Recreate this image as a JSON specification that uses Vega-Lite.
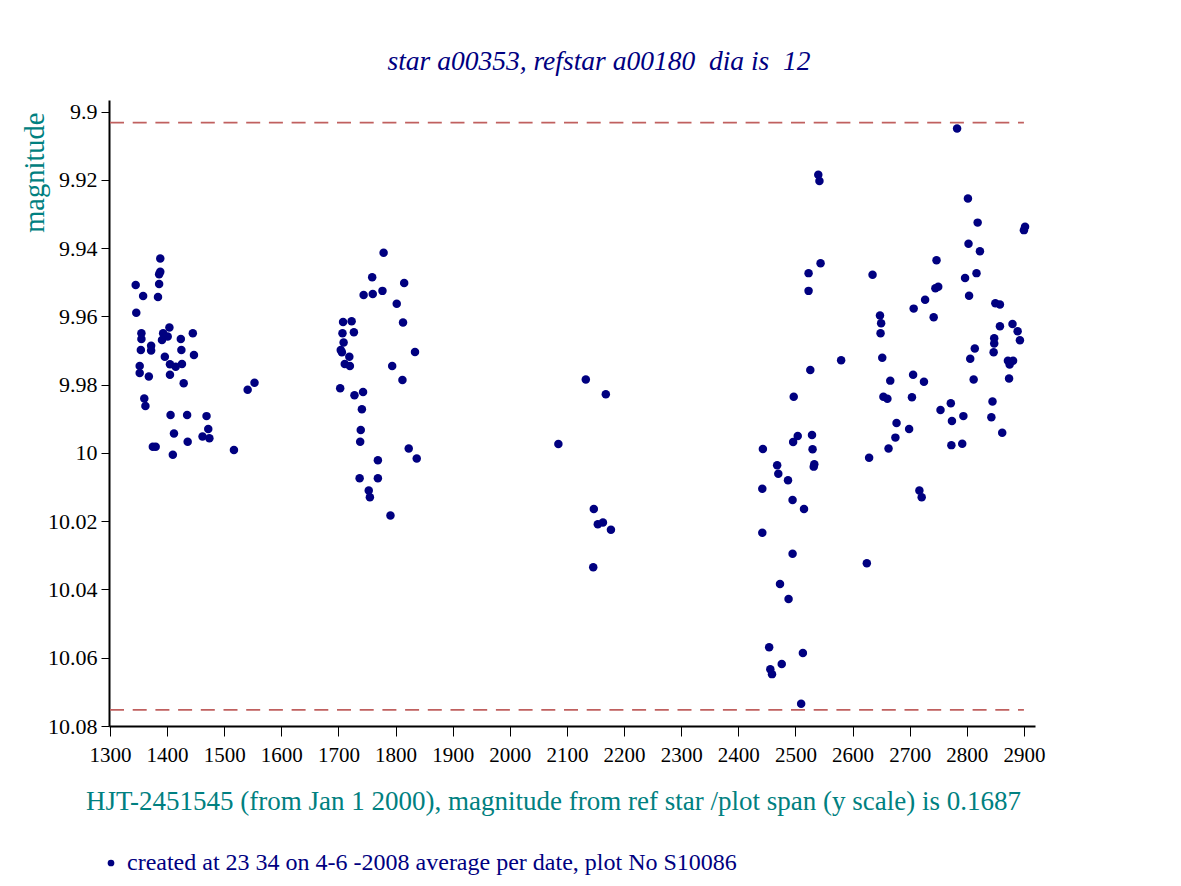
{
  "$schema": "https://vega.github.io/schema/vega-lite/v6.json",
  "width": 926,
  "height": 626,
  "autosize": "none",
  "padding": {"left": 109, "top": 100, "right": 146, "bottom": 160},
  "background": "white",
  "title": {
    "text": "star a00353, refstar a00180 \u00a0dia is \u00a012",
    "font": "Liberation Serif",
    "fontSize": 27.5,
    "fontStyle": "italic",
    "fontWeight": "normal",
    "color": "#000080",
    "anchor": "middle",
    "frame": "group",
    "dx": 27,
    "offset": 3,
    "baseline": "alphabetic"
  },
  "config": {
    "view": {"stroke": null},
    "axis": {
      "grid": false,
      "domainColor": "black",
      "domainWidth": 2,
      "tickColor": "black",
      "tickWidth": 1,
      "labelColor": "black",
      "labelFont": "Liberation Serif",
      "labelFontSize": 21,
      "labelFlush": false,
      "labelOverlap": false,
      "titleFont": "Liberation Serif",
      "titleFontWeight": "normal",
      "titleColor": "#008080"
    }
  },
  "datasets": {
    "points": [
      {"hjt": 1388, "mag": 9.9430, "series": "created at 23 34 on 4-6 -2008 average per date, plot No S10086"},
      {"hjt": 1388, "mag": 9.9469, "series": "created at 23 34 on 4-6 -2008 average per date, plot No S10086"},
      {"hjt": 1386, "mag": 9.9476, "series": "created at 23 34 on 4-6 -2008 average per date, plot No S10086"},
      {"hjt": 1345, "mag": 9.9508, "series": "created at 23 34 on 4-6 -2008 average per date, plot No S10086"},
      {"hjt": 1386, "mag": 9.9505, "series": "created at 23 34 on 4-6 -2008 average per date, plot No S10086"},
      {"hjt": 1358, "mag": 9.9540, "series": "created at 23 34 on 4-6 -2008 average per date, plot No S10086"},
      {"hjt": 1384, "mag": 9.9543, "series": "created at 23 34 on 4-6 -2008 average per date, plot No S10086"},
      {"hjt": 1346, "mag": 9.9589, "series": "created at 23 34 on 4-6 -2008 average per date, plot No S10086"},
      {"hjt": 1355, "mag": 9.9649, "series": "created at 23 34 on 4-6 -2008 average per date, plot No S10086"},
      {"hjt": 1355, "mag": 9.9666, "series": "created at 23 34 on 4-6 -2008 average per date, plot No S10086"},
      {"hjt": 1404, "mag": 9.9632, "series": "created at 23 34 on 4-6 -2008 average per date, plot No S10086"},
      {"hjt": 1393, "mag": 9.9649, "series": "created at 23 34 on 4-6 -2008 average per date, plot No S10086"},
      {"hjt": 1401, "mag": 9.9659, "series": "created at 23 34 on 4-6 -2008 average per date, plot No S10086"},
      {"hjt": 1391, "mag": 9.9669, "series": "created at 23 34 on 4-6 -2008 average per date, plot No S10086"},
      {"hjt": 1424, "mag": 9.9666, "series": "created at 23 34 on 4-6 -2008 average per date, plot No S10086"},
      {"hjt": 1445, "mag": 9.9649, "series": "created at 23 34 on 4-6 -2008 average per date, plot No S10086"},
      {"hjt": 1354, "mag": 9.9698, "series": "created at 23 34 on 4-6 -2008 average per date, plot No S10086"},
      {"hjt": 1372, "mag": 9.9686, "series": "created at 23 34 on 4-6 -2008 average per date, plot No S10086"},
      {"hjt": 1372, "mag": 9.9700, "series": "created at 23 34 on 4-6 -2008 average per date, plot No S10086"},
      {"hjt": 1425, "mag": 9.9698, "series": "created at 23 34 on 4-6 -2008 average per date, plot No S10086"},
      {"hjt": 1396, "mag": 9.9718, "series": "created at 23 34 on 4-6 -2008 average per date, plot No S10086"},
      {"hjt": 1447, "mag": 9.9713, "series": "created at 23 34 on 4-6 -2008 average per date, plot No S10086"},
      {"hjt": 1405, "mag": 9.9740, "series": "created at 23 34 on 4-6 -2008 average per date, plot No S10086"},
      {"hjt": 1415, "mag": 9.9747, "series": "created at 23 34 on 4-6 -2008 average per date, plot No S10086"},
      {"hjt": 1426, "mag": 9.9739, "series": "created at 23 34 on 4-6 -2008 average per date, plot No S10086"},
      {"hjt": 1352, "mag": 9.9745, "series": "created at 23 34 on 4-6 -2008 average per date, plot No S10086"},
      {"hjt": 1352, "mag": 9.9766, "series": "created at 23 34 on 4-6 -2008 average per date, plot No S10086"},
      {"hjt": 1368, "mag": 9.9776, "series": "created at 23 34 on 4-6 -2008 average per date, plot No S10086"},
      {"hjt": 1405, "mag": 9.9771, "series": "created at 23 34 on 4-6 -2008 average per date, plot No S10086"},
      {"hjt": 1429, "mag": 9.9796, "series": "created at 23 34 on 4-6 -2008 average per date, plot No S10086"},
      {"hjt": 1553, "mag": 9.9794, "series": "created at 23 34 on 4-6 -2008 average per date, plot No S10086"},
      {"hjt": 1541, "mag": 9.9815, "series": "created at 23 34 on 4-6 -2008 average per date, plot No S10086"},
      {"hjt": 1360, "mag": 9.9840, "series": "created at 23 34 on 4-6 -2008 average per date, plot No S10086"},
      {"hjt": 1362, "mag": 9.9862, "series": "created at 23 34 on 4-6 -2008 average per date, plot No S10086"},
      {"hjt": 1406, "mag": 9.9889, "series": "created at 23 34 on 4-6 -2008 average per date, plot No S10086"},
      {"hjt": 1435, "mag": 9.9889, "series": "created at 23 34 on 4-6 -2008 average per date, plot No S10086"},
      {"hjt": 1469, "mag": 9.9892, "series": "created at 23 34 on 4-6 -2008 average per date, plot No S10086"},
      {"hjt": 1472, "mag": 9.9930, "series": "created at 23 34 on 4-6 -2008 average per date, plot No S10086"},
      {"hjt": 1462, "mag": 9.9952, "series": "created at 23 34 on 4-6 -2008 average per date, plot No S10086"},
      {"hjt": 1474, "mag": 9.9957, "series": "created at 23 34 on 4-6 -2008 average per date, plot No S10086"},
      {"hjt": 1412, "mag": 9.9943, "series": "created at 23 34 on 4-6 -2008 average per date, plot No S10086"},
      {"hjt": 1436, "mag": 9.9967, "series": "created at 23 34 on 4-6 -2008 average per date, plot No S10086"},
      {"hjt": 1375, "mag": 9.9982, "series": "created at 23 34 on 4-6 -2008 average per date, plot No S10086"},
      {"hjt": 1380, "mag": 9.9982, "series": "created at 23 34 on 4-6 -2008 average per date, plot No S10086"},
      {"hjt": 1410, "mag": 10.0005, "series": "created at 23 34 on 4-6 -2008 average per date, plot No S10086"},
      {"hjt": 1517, "mag": 9.9991, "series": "created at 23 34 on 4-6 -2008 average per date, plot No S10086"},
      {"hjt": 1779, "mag": 9.9413, "series": "created at 23 34 on 4-6 -2008 average per date, plot No S10086"},
      {"hjt": 1759, "mag": 9.9485, "series": "created at 23 34 on 4-6 -2008 average per date, plot No S10086"},
      {"hjt": 1815, "mag": 9.9502, "series": "created at 23 34 on 4-6 -2008 average per date, plot No S10086"},
      {"hjt": 1744, "mag": 9.9537, "series": "created at 23 34 on 4-6 -2008 average per date, plot No S10086"},
      {"hjt": 1760, "mag": 9.9534, "series": "created at 23 34 on 4-6 -2008 average per date, plot No S10086"},
      {"hjt": 1777, "mag": 9.9525, "series": "created at 23 34 on 4-6 -2008 average per date, plot No S10086"},
      {"hjt": 1802, "mag": 9.9563, "series": "created at 23 34 on 4-6 -2008 average per date, plot No S10086"},
      {"hjt": 1708, "mag": 9.9616, "series": "created at 23 34 on 4-6 -2008 average per date, plot No S10086"},
      {"hjt": 1723, "mag": 9.9614, "series": "created at 23 34 on 4-6 -2008 average per date, plot No S10086"},
      {"hjt": 1707, "mag": 9.9649, "series": "created at 23 34 on 4-6 -2008 average per date, plot No S10086"},
      {"hjt": 1727, "mag": 9.9646, "series": "created at 23 34 on 4-6 -2008 average per date, plot No S10086"},
      {"hjt": 1709, "mag": 9.9676, "series": "created at 23 34 on 4-6 -2008 average per date, plot No S10086"},
      {"hjt": 1704, "mag": 9.9698, "series": "created at 23 34 on 4-6 -2008 average per date, plot No S10086"},
      {"hjt": 1706, "mag": 9.9705, "series": "created at 23 34 on 4-6 -2008 average per date, plot No S10086"},
      {"hjt": 1813, "mag": 9.9618, "series": "created at 23 34 on 4-6 -2008 average per date, plot No S10086"},
      {"hjt": 1719, "mag": 9.9718, "series": "created at 23 34 on 4-6 -2008 average per date, plot No S10086"},
      {"hjt": 1711, "mag": 9.9739, "series": "created at 23 34 on 4-6 -2008 average per date, plot No S10086"},
      {"hjt": 1720, "mag": 9.9745, "series": "created at 23 34 on 4-6 -2008 average per date, plot No S10086"},
      {"hjt": 1834, "mag": 9.9704, "series": "created at 23 34 on 4-6 -2008 average per date, plot No S10086"},
      {"hjt": 1794, "mag": 9.9745, "series": "created at 23 34 on 4-6 -2008 average per date, plot No S10086"},
      {"hjt": 1812, "mag": 9.9786, "series": "created at 23 34 on 4-6 -2008 average per date, plot No S10086"},
      {"hjt": 1703, "mag": 9.9810, "series": "created at 23 34 on 4-6 -2008 average per date, plot No S10086"},
      {"hjt": 1728, "mag": 9.9831, "series": "created at 23 34 on 4-6 -2008 average per date, plot No S10086"},
      {"hjt": 1743, "mag": 9.9821, "series": "created at 23 34 on 4-6 -2008 average per date, plot No S10086"},
      {"hjt": 1741, "mag": 9.9872, "series": "created at 23 34 on 4-6 -2008 average per date, plot No S10086"},
      {"hjt": 1739, "mag": 9.9933, "series": "created at 23 34 on 4-6 -2008 average per date, plot No S10086"},
      {"hjt": 1738, "mag": 9.9967, "series": "created at 23 34 on 4-6 -2008 average per date, plot No S10086"},
      {"hjt": 1823, "mag": 9.9987, "series": "created at 23 34 on 4-6 -2008 average per date, plot No S10086"},
      {"hjt": 1837, "mag": 10.0016, "series": "created at 23 34 on 4-6 -2008 average per date, plot No S10086"},
      {"hjt": 1769, "mag": 10.0021, "series": "created at 23 34 on 4-6 -2008 average per date, plot No S10086"},
      {"hjt": 1737, "mag": 10.0074, "series": "created at 23 34 on 4-6 -2008 average per date, plot No S10086"},
      {"hjt": 1769, "mag": 10.0074, "series": "created at 23 34 on 4-6 -2008 average per date, plot No S10086"},
      {"hjt": 1753, "mag": 10.0110, "series": "created at 23 34 on 4-6 -2008 average per date, plot No S10086"},
      {"hjt": 1755, "mag": 10.0130, "series": "created at 23 34 on 4-6 -2008 average per date, plot No S10086"},
      {"hjt": 1791, "mag": 10.0183, "series": "created at 23 34 on 4-6 -2008 average per date, plot No S10086"},
      {"hjt": 2133, "mag": 9.9785, "series": "created at 23 34 on 4-6 -2008 average per date, plot No S10086"},
      {"hjt": 2168, "mag": 9.9828, "series": "created at 23 34 on 4-6 -2008 average per date, plot No S10086"},
      {"hjt": 2085, "mag": 9.9974, "series": "created at 23 34 on 4-6 -2008 average per date, plot No S10086"},
      {"hjt": 2147, "mag": 10.0164, "series": "created at 23 34 on 4-6 -2008 average per date, plot No S10086"},
      {"hjt": 2154, "mag": 10.0209, "series": "created at 23 34 on 4-6 -2008 average per date, plot No S10086"},
      {"hjt": 2163, "mag": 10.0204, "series": "created at 23 34 on 4-6 -2008 average per date, plot No S10086"},
      {"hjt": 2177, "mag": 10.0225, "series": "created at 23 34 on 4-6 -2008 average per date, plot No S10086"},
      {"hjt": 2146, "mag": 10.0335, "series": "created at 23 34 on 4-6 -2008 average per date, plot No S10086"},
      {"hjt": 2540, "mag": 9.9185, "series": "created at 23 34 on 4-6 -2008 average per date, plot No S10086"},
      {"hjt": 2542, "mag": 9.9203, "series": "created at 23 34 on 4-6 -2008 average per date, plot No S10086"},
      {"hjt": 2544, "mag": 9.9444, "series": "created at 23 34 on 4-6 -2008 average per date, plot No S10086"},
      {"hjt": 2523, "mag": 9.9473, "series": "created at 23 34 on 4-6 -2008 average per date, plot No S10086"},
      {"hjt": 2523, "mag": 9.9525, "series": "created at 23 34 on 4-6 -2008 average per date, plot No S10086"},
      {"hjt": 2580, "mag": 9.9728, "series": "created at 23 34 on 4-6 -2008 average per date, plot No S10086"},
      {"hjt": 2526, "mag": 9.9757, "series": "created at 23 34 on 4-6 -2008 average per date, plot No S10086"},
      {"hjt": 2497, "mag": 9.9835, "series": "created at 23 34 on 4-6 -2008 average per date, plot No S10086"},
      {"hjt": 2504, "mag": 9.9950, "series": "created at 23 34 on 4-6 -2008 average per date, plot No S10086"},
      {"hjt": 2496, "mag": 9.9968, "series": "created at 23 34 on 4-6 -2008 average per date, plot No S10086"},
      {"hjt": 2529, "mag": 9.9947, "series": "created at 23 34 on 4-6 -2008 average per date, plot No S10086"},
      {"hjt": 2530, "mag": 9.9989, "series": "created at 23 34 on 4-6 -2008 average per date, plot No S10086"},
      {"hjt": 2533, "mag": 10.0033, "series": "created at 23 34 on 4-6 -2008 average per date, plot No S10086"},
      {"hjt": 2532, "mag": 10.0040, "series": "created at 23 34 on 4-6 -2008 average per date, plot No S10086"},
      {"hjt": 2443, "mag": 9.9988, "series": "created at 23 34 on 4-6 -2008 average per date, plot No S10086"},
      {"hjt": 2468, "mag": 10.0036, "series": "created at 23 34 on 4-6 -2008 average per date, plot No S10086"},
      {"hjt": 2470, "mag": 10.0061, "series": "created at 23 34 on 4-6 -2008 average per date, plot No S10086"},
      {"hjt": 2487, "mag": 10.0080, "series": "created at 23 34 on 4-6 -2008 average per date, plot No S10086"},
      {"hjt": 2442, "mag": 10.0105, "series": "created at 23 34 on 4-6 -2008 average per date, plot No S10086"},
      {"hjt": 2495, "mag": 10.0138, "series": "created at 23 34 on 4-6 -2008 average per date, plot No S10086"},
      {"hjt": 2515, "mag": 10.0164, "series": "created at 23 34 on 4-6 -2008 average per date, plot No S10086"},
      {"hjt": 2442, "mag": 10.0234, "series": "created at 23 34 on 4-6 -2008 average per date, plot No S10086"},
      {"hjt": 2495, "mag": 10.0295, "series": "created at 23 34 on 4-6 -2008 average per date, plot No S10086"},
      {"hjt": 2473, "mag": 10.0384, "series": "created at 23 34 on 4-6 -2008 average per date, plot No S10086"},
      {"hjt": 2488, "mag": 10.0428, "series": "created at 23 34 on 4-6 -2008 average per date, plot No S10086"},
      {"hjt": 2454, "mag": 10.0569, "series": "created at 23 34 on 4-6 -2008 average per date, plot No S10086"},
      {"hjt": 2513, "mag": 10.0586, "series": "created at 23 34 on 4-6 -2008 average per date, plot No S10086"},
      {"hjt": 2476, "mag": 10.0618, "series": "created at 23 34 on 4-6 -2008 average per date, plot No S10086"},
      {"hjt": 2456, "mag": 10.0634, "series": "created at 23 34 on 4-6 -2008 average per date, plot No S10086"},
      {"hjt": 2459, "mag": 10.0648, "series": "created at 23 34 on 4-6 -2008 average per date, plot No S10086"},
      {"hjt": 2510, "mag": 10.0735, "series": "created at 23 34 on 4-6 -2008 average per date, plot No S10086"},
      {"hjt": 2783, "mag": 9.9049, "series": "created at 23 34 on 4-6 -2008 average per date, plot No S10086"},
      {"hjt": 2802, "mag": 9.9254, "series": "created at 23 34 on 4-6 -2008 average per date, plot No S10086"},
      {"hjt": 2819, "mag": 9.9325, "series": "created at 23 34 on 4-6 -2008 average per date, plot No S10086"},
      {"hjt": 2902, "mag": 9.9337, "series": "created at 23 34 on 4-6 -2008 average per date, plot No S10086"},
      {"hjt": 2900, "mag": 9.9347, "series": "created at 23 34 on 4-6 -2008 average per date, plot No S10086"},
      {"hjt": 2803, "mag": 9.9387, "series": "created at 23 34 on 4-6 -2008 average per date, plot No S10086"},
      {"hjt": 2823, "mag": 9.9409, "series": "created at 23 34 on 4-6 -2008 average per date, plot No S10086"},
      {"hjt": 2747, "mag": 9.9435, "series": "created at 23 34 on 4-6 -2008 average per date, plot No S10086"},
      {"hjt": 2635, "mag": 9.9478, "series": "created at 23 34 on 4-6 -2008 average per date, plot No S10086"},
      {"hjt": 2797, "mag": 9.9487, "series": "created at 23 34 on 4-6 -2008 average per date, plot No S10086"},
      {"hjt": 2817, "mag": 9.9473, "series": "created at 23 34 on 4-6 -2008 average per date, plot No S10086"},
      {"hjt": 2745, "mag": 9.9517, "series": "created at 23 34 on 4-6 -2008 average per date, plot No S10086"},
      {"hjt": 2750, "mag": 9.9513, "series": "created at 23 34 on 4-6 -2008 average per date, plot No S10086"},
      {"hjt": 2804, "mag": 9.9539, "series": "created at 23 34 on 4-6 -2008 average per date, plot No S10086"},
      {"hjt": 2727, "mag": 9.9551, "series": "created at 23 34 on 4-6 -2008 average per date, plot No S10086"},
      {"hjt": 2707, "mag": 9.9577, "series": "created at 23 34 on 4-6 -2008 average per date, plot No S10086"},
      {"hjt": 2742, "mag": 9.9602, "series": "created at 23 34 on 4-6 -2008 average per date, plot No S10086"},
      {"hjt": 2850, "mag": 9.9561, "series": "created at 23 34 on 4-6 -2008 average per date, plot No S10086"},
      {"hjt": 2858, "mag": 9.9565, "series": "created at 23 34 on 4-6 -2008 average per date, plot No S10086"},
      {"hjt": 2648, "mag": 9.9597, "series": "created at 23 34 on 4-6 -2008 average per date, plot No S10086"},
      {"hjt": 2650, "mag": 9.9620, "series": "created at 23 34 on 4-6 -2008 average per date, plot No S10086"},
      {"hjt": 2649, "mag": 9.9649, "series": "created at 23 34 on 4-6 -2008 average per date, plot No S10086"},
      {"hjt": 2858, "mag": 9.9629, "series": "created at 23 34 on 4-6 -2008 average per date, plot No S10086"},
      {"hjt": 2880, "mag": 9.9622, "series": "created at 23 34 on 4-6 -2008 average per date, plot No S10086"},
      {"hjt": 2889, "mag": 9.9643, "series": "created at 23 34 on 4-6 -2008 average per date, plot No S10086"},
      {"hjt": 2893, "mag": 9.9670, "series": "created at 23 34 on 4-6 -2008 average per date, plot No S10086"},
      {"hjt": 2848, "mag": 9.9664, "series": "created at 23 34 on 4-6 -2008 average per date, plot No S10086"},
      {"hjt": 2848, "mag": 9.9679, "series": "created at 23 34 on 4-6 -2008 average per date, plot No S10086"},
      {"hjt": 2847, "mag": 9.9705, "series": "created at 23 34 on 4-6 -2008 average per date, plot No S10086"},
      {"hjt": 2814, "mag": 9.9694, "series": "created at 23 34 on 4-6 -2008 average per date, plot No S10086"},
      {"hjt": 2806, "mag": 9.9724, "series": "created at 23 34 on 4-6 -2008 average per date, plot No S10086"},
      {"hjt": 2652, "mag": 9.9721, "series": "created at 23 34 on 4-6 -2008 average per date, plot No S10086"},
      {"hjt": 2872, "mag": 9.9730, "series": "created at 23 34 on 4-6 -2008 average per date, plot No S10086"},
      {"hjt": 2881, "mag": 9.9730, "series": "created at 23 34 on 4-6 -2008 average per date, plot No S10086"},
      {"hjt": 2875, "mag": 9.9741, "series": "created at 23 34 on 4-6 -2008 average per date, plot No S10086"},
      {"hjt": 2666, "mag": 9.9788, "series": "created at 23 34 on 4-6 -2008 average per date, plot No S10086"},
      {"hjt": 2706, "mag": 9.9771, "series": "created at 23 34 on 4-6 -2008 average per date, plot No S10086"},
      {"hjt": 2725, "mag": 9.9791, "series": "created at 23 34 on 4-6 -2008 average per date, plot No S10086"},
      {"hjt": 2812, "mag": 9.9785, "series": "created at 23 34 on 4-6 -2008 average per date, plot No S10086"},
      {"hjt": 2874, "mag": 9.9782, "series": "created at 23 34 on 4-6 -2008 average per date, plot No S10086"},
      {"hjt": 2654, "mag": 9.9835, "series": "created at 23 34 on 4-6 -2008 average per date, plot No S10086"},
      {"hjt": 2661, "mag": 9.9841, "series": "created at 23 34 on 4-6 -2008 average per date, plot No S10086"},
      {"hjt": 2704, "mag": 9.9837, "series": "created at 23 34 on 4-6 -2008 average per date, plot No S10086"},
      {"hjt": 2772, "mag": 9.9854, "series": "created at 23 34 on 4-6 -2008 average per date, plot No S10086"},
      {"hjt": 2754, "mag": 9.9874, "series": "created at 23 34 on 4-6 -2008 average per date, plot No S10086"},
      {"hjt": 2845, "mag": 9.9849, "series": "created at 23 34 on 4-6 -2008 average per date, plot No S10086"},
      {"hjt": 2774, "mag": 9.9906, "series": "created at 23 34 on 4-6 -2008 average per date, plot No S10086"},
      {"hjt": 2794, "mag": 9.9892, "series": "created at 23 34 on 4-6 -2008 average per date, plot No S10086"},
      {"hjt": 2843, "mag": 9.9895, "series": "created at 23 34 on 4-6 -2008 average per date, plot No S10086"},
      {"hjt": 2677, "mag": 9.9912, "series": "created at 23 34 on 4-6 -2008 average per date, plot No S10086"},
      {"hjt": 2699, "mag": 9.9930, "series": "created at 23 34 on 4-6 -2008 average per date, plot No S10086"},
      {"hjt": 2675, "mag": 9.9955, "series": "created at 23 34 on 4-6 -2008 average per date, plot No S10086"},
      {"hjt": 2862, "mag": 9.9941, "series": "created at 23 34 on 4-6 -2008 average per date, plot No S10086"},
      {"hjt": 2663, "mag": 9.9987, "series": "created at 23 34 on 4-6 -2008 average per date, plot No S10086"},
      {"hjt": 2773, "mag": 9.9977, "series": "created at 23 34 on 4-6 -2008 average per date, plot No S10086"},
      {"hjt": 2792, "mag": 9.9973, "series": "created at 23 34 on 4-6 -2008 average per date, plot No S10086"},
      {"hjt": 2629, "mag": 10.0014, "series": "created at 23 34 on 4-6 -2008 average per date, plot No S10086"},
      {"hjt": 2717, "mag": 10.0110, "series": "created at 23 34 on 4-6 -2008 average per date, plot No S10086"},
      {"hjt": 2721, "mag": 10.0130, "series": "created at 23 34 on 4-6 -2008 average per date, plot No S10086"},
      {"hjt": 2625, "mag": 10.0323, "series": "created at 23 34 on 4-6 -2008 average per date, plot No S10086"}
    ],
    "limits": [
      {"hjt": 1300, "hjt2": 2900, "mag": 9.9032},
      {"hjt": 1300, "hjt2": 2900, "mag": 10.0753}
    ]
  },
  "encoding": {
    "x": {
      "field": "hjt",
      "type": "quantitative",
      "scale": {"domain": [1298.25, 2919.4], "nice": false, "zero": false},
      "axis": {
        "values": [1300, 1400, 1500, 1600, 1700, 1800, 1900, 2000, 2100, 2200, 2300, 2400, 2500, 2600, 2700, 2800, 2900],
        "format": "d",
        "title": "HJT-2451545 (from Jan 1 2000), magnitude from ref star /plot span (y scale) is 0.1687",
        "titleFontSize": 27,
        "titleX": 444,
        "titleY": 83,
        "titleAlign": "center",
        "titleBaseline": "alphabetic",
        "tickSize": 10,
        "labelPadding": 8
      }
    },
    "y": {
      "field": "mag",
      "type": "quantitative",
      "scale": {"domain": [9.89657, 10.08], "reverse": true, "nice": false, "zero": false},
      "axis": {
        "values": [9.9, 9.92, 9.94, 9.96, 9.98, 10, 10.02, 10.04, 10.06, 10.08],
        "format": ".2~f",
        "labelFontSize": 22,
        "title": "magnitude",
        "titleFontSize": 28.5,
        "titleAngle": -90,
        "titleX": -66,
        "titleY": 12,
        "titleAlign": "right",
        "titleBaseline": "alphabetic",
        "tickSize": 8,
        "labelPadding": 4
      }
    }
  },
  "layer": [
    {
      "data": {"name": "limits"},
      "mark": {"type": "rule", "color": "#c0605f", "strokeWidth": 1.7, "strokeDash": [14, 8.7]},
      "encoding": {
        "x2": {"field": "hjt2"}
      }
    },
    {
      "data": {"name": "points"},
      "mark": {"type": "circle", "size": 72, "opacity": 1},
      "encoding": {
        "color": {
          "field": "series",
          "type": "nominal",
          "scale": {"range": ["#000080"]},
          "legend": {
            "title": null,
            "orient": "none",
            "legendX": -10,
            "legendY": 751,
            "labelFont": "Liberation Serif",
            "labelFontSize": 24,
            "labelColor": "#000080",
            "labelLimit": 1000,
            "symbolType": "circle",
            "symbolSize": 45,
            "symbolStrokeWidth": 0
          }
        }
      }
    }
  ]
}
